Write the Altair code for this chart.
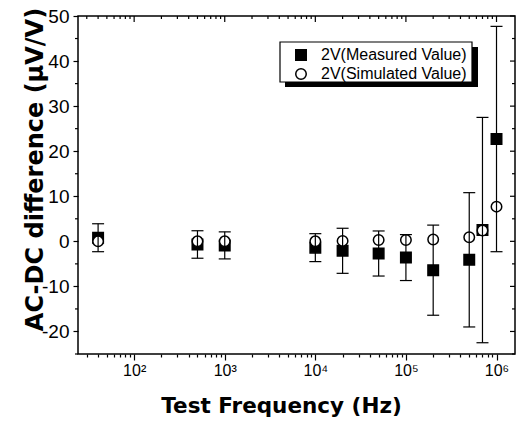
import altair as alt
import pandas as pd

# ---- data ----
freq = [40, 500, 1000, 10000, 20000, 50000, 100000, 200000, 500000, 700000, 1000000]
measured = [0.8, -0.7, -0.9, -1.4, -2.1, -2.7, -3.6, -6.4, -4.1, 2.5, 22.7]
measured_err = [3.1, 3.05, 3.0, 3.1, 5.0, 5.0, 5.1, 10.0, 14.9, 25.0, 25.0]
simulated = [0.0, 0.0, 0.0, 0.0, 0.1, 0.3, 0.3, 0.4, 0.9, 2.4, 7.7]
series = ["2V(Measured Value)", "2V(Simulated Value)"]

x_domain = [24, 1.6e6]
y_domain = [-25, 50]
x_tick_values = [k * 10 ** e for e in range(1, 7) for k in range(1, 10)
                 if x_domain[0] <= k * 10 ** e <= x_domain[1]]
x_major_values = [100, 1000, 10000, 100000, 1000000]
y_major_values = [-20, -10, 0, 10, 20, 30, 40, 50]
y_minor_values = [-25, -15, -5, 5, 15, 25, 35, 45]

W, H = 437, 338

pts = pd.DataFrame({
    "freq": freq + freq,
    "value": measured + simulated,
    "series": [series[0]] * len(freq) + [series[1]] * len(freq),
})
err = pd.DataFrame({
    "freq": freq,
    "lo": [m - e for m, e in zip(measured, measured_err)],
    "hi": [m + e for m, e in zip(measured, measured_err)],
})
xt_major = pd.DataFrame({"v": x_major_values})
xt_minor = pd.DataFrame({"v": [v for v in x_tick_values if v not in x_major_values]})
yt_major = pd.DataFrame({"v": y_major_values})
yt_minor = pd.DataFrame({"v": y_minor_values})

is_major = "abs(log(datum.value)/LN10 - round(log(datum.value)/LN10)) < 0.001"
x_label = ("(" + is_major + ") ? '10' + ['\u2070','\u00b9','\u00b2','\u00b3','\u2074','\u2075','\u2076']"
           "[round(log(datum.value)/LN10)] : ''")

xs = alt.Scale(type="log", domain=x_domain, nice=False)
ys = alt.Scale(domain=y_domain, nice=False, zero=False)

x_axis = alt.Axis(
    values=x_tick_values, labelExpr=x_label,
    tickSize={"condition": {"test": is_major, "value": 6}, "value": 3},
    tickColor="black", tickWidth=1.2, domain=False, grid=False,
    labelFont="Liberation Sans", labelFontSize=16, labelColor="black",
    labelPadding=2, labelOverlap=False, labelFlush=False,
    title="Test Frequency (Hz)", titleFont="DejaVu Sans", titleFontSize=21.5,
    titleFontWeight="bold", titleColor="black", titleX=203, titleY=58,
    titleAlign="center", titleBaseline="alphabetic",
)
y_axis = alt.Axis(
    values=y_major_values, labelExpr="replace(datum.label, '\u2212', '-')",
    tickSize=5, tickColor="black", tickWidth=1.2, domain=False, grid=False,
    labelFont="Liberation Sans", labelFontSize=19, labelColor="black",
    labelPadding=4, labelOverlap=False, labelFlush=False,
    title="AC-DC difference (\u03bcV/V)", titleFont="DejaVu Sans", titleFontSize=24,
    titleFontWeight="bold", titleColor="black", titleX=-43, titleY=153,
    titleAlign="center", titleBaseline="middle", titleAngle=270,
)

leg = alt.Legend(
    title=None, orient="none", legendX=202, legendY=26, padding=5,
    labelFont="Liberation Sans", labelFontSize=16, labelColor="black",
    symbolSize=110, symbolStrokeColor="black", symbolStrokeWidth=1.5,
    symbolOffset=8, labelOffset=12, rowPadding=1, zindex=2,
)

one = pd.DataFrame({"a": [0]})
shadow = alt.Chart(one).mark_rect(color="black").encode(
    x=alt.value(207), x2=alt.value(400), y=alt.value(31), y2=alt.value(71)
)
box = alt.Chart(one).mark_rect(fill="white", stroke="black", strokeWidth=1.2).encode(
    x=alt.value(202), x2=alt.value(394), y=alt.value(26), y2=alt.value(66)
)

points = alt.Chart(pts).mark_point(filled=True, opacity=1, strokeWidth=1.5, size=110).encode(
    x=alt.X("freq:Q", scale=xs, axis=x_axis),
    y=alt.Y("value:Q", scale=ys, axis=y_axis),
    shape=alt.Shape("series:N", scale=alt.Scale(domain=series, range=["square", "circle"]), legend=leg),
    fill=alt.Fill("series:N", scale=alt.Scale(domain=series, range=["black", "white"]), legend=leg),
    stroke=alt.Stroke("series:N", scale=alt.Scale(domain=series, range=["black", "black"]), legend=leg),
)

bars = alt.Chart(err).mark_rule(color="black", strokeWidth=1.2).encode(
    x="freq:Q", y="lo:Q", y2="hi:Q"
)
cap_lo = alt.Chart(err).mark_tick(orient="horizontal", size=12, thickness=1.2,
                                  color="black", opacity=1).encode(x="freq:Q", y="lo:Q")
cap_hi = alt.Chart(err).mark_tick(orient="horizontal", size=12, thickness=1.2,
                                  color="black", opacity=1).encode(x="freq:Q", y="hi:Q")

top_major = alt.Chart(xt_major).mark_rule(color="black", strokeWidth=1.2).encode(
    x="v:Q", y=alt.value(0), y2=alt.value(6))
top_minor = alt.Chart(xt_minor).mark_rule(color="black", strokeWidth=1.2).encode(
    x="v:Q", y=alt.value(0), y2=alt.value(3))
right_major = alt.Chart(yt_major).mark_rule(color="black", strokeWidth=1.2).encode(
    y="v:Q", x=alt.value(W), x2=alt.value(W - 5))
right_minor = alt.Chart(yt_minor).mark_rule(color="black", strokeWidth=1.2).encode(
    y="v:Q", x=alt.value(W), x2=alt.value(W - 3))
left_minor = alt.Chart(yt_minor).mark_rule(color="black", strokeWidth=1.2).encode(
    y="v:Q", x=alt.value(-3), x2=alt.value(0))

chart = alt.layer(
    shadow, box, points, bars, cap_lo, cap_hi,
    top_major, top_minor, right_major, right_minor, left_minor
).properties(
    width=W, height=H, autosize="none",
    padding={"left": 78, "top": 16, "right": 525 - 78 - W, "bottom": 423 - 16 - H},
    background="white",
).configure_view(stroke="black", strokeWidth=1.5)

chart.save("out.html", embed_options={"renderer": "svg", "actions": False})
